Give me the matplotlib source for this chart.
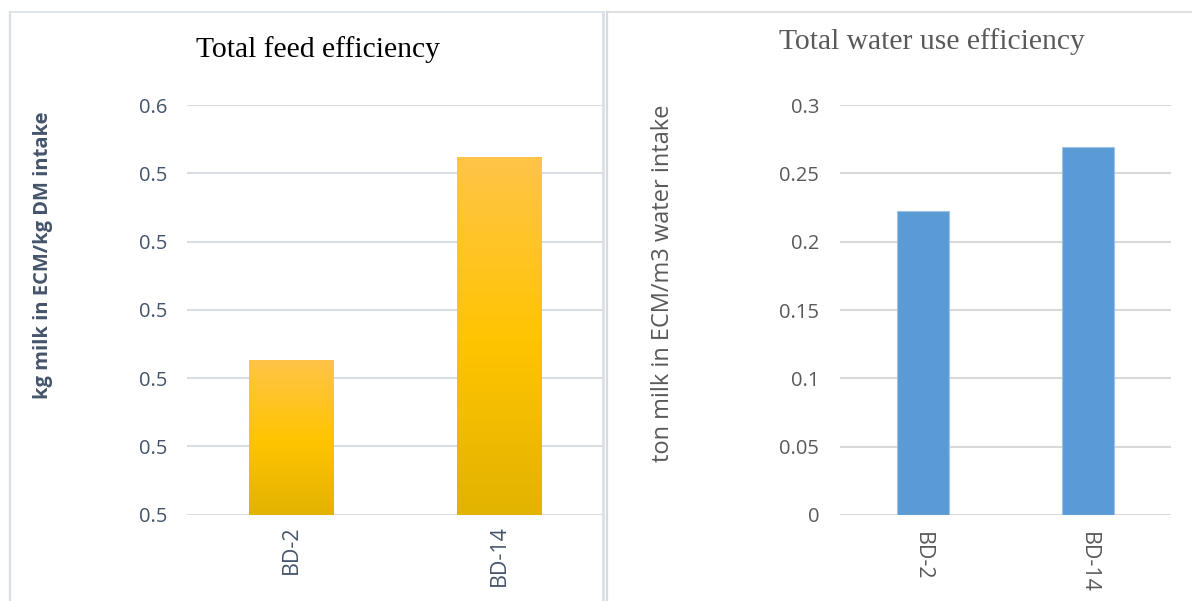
import numpy as np
import matplotlib
matplotlib.use("Agg")
import matplotlib.pyplot as plt
from matplotlib.lines import Line2D
from matplotlib.ticker import FuncFormatter
from matplotlib.colors import LinearSegmentedColormap
from decimal import Decimal, ROUND_HALF_UP

# ---- data ----
categories = ["BD-2", "BD-14"]
feed_efficiency = [0.5126, 0.5424]        # kg milk in ECM / kg DM intake
water_efficiency = [0.2222, 0.2690]       # ton milk in ECM / m3 water intake
feed_ticks = [0.49, 0.50, 0.51, 0.52, 0.53, 0.54, 0.55]
water_ticks = [0, 0.05, 0.1, 0.15, 0.2, 0.25, 0.3]

W, H = 1192, 601
fig = plt.figure(figsize=(W / 100, H / 100), dpi=100)
fig.patch.set_facecolor("white")


def fx(px):
    return px / W


def fy(py):
    return 1 - py / H


# panel frames
frame_l = "#DAE0E8"
frame_r = "#D9D9D9"
fig.add_artist(Line2D([fx(9.5), fx(9.5)], [fy(11.5), fy(601)], color=frame_l, lw=1.6))
fig.add_artist(Line2D([fx(9.5), fx(602.5)], [fy(11.5), fy(11.5)], color=frame_l, lw=1.2))
fig.add_artist(Line2D([fx(602.5), fx(602.5)], [fy(11.5), fy(601)], color=frame_l, lw=2.0))
fig.add_artist(Line2D([fx(606.5), fx(606.5)], [fy(11.5), fy(601)], color=frame_r, lw=1.6))
fig.add_artist(Line2D([fx(606.5), fx(1192)], [fy(11.5), fy(11.5)], color=frame_r, lw=1.2))

x = np.arange(len(categories))

# ---- left: total feed efficiency ----
axl = fig.add_axes([fx(187), fy(514.5), fx(603) - fx(187), fy(105) - fy(514.5)])
axl.set_yticks(feed_ticks)
axl.yaxis.set_major_formatter(FuncFormatter(
    lambda v, p: str(Decimal(str(round(v, 4))).quantize(Decimal("0.1"), rounding=ROUND_HALF_UP))))
axl.grid(axis="y", color="#D9DEE6", lw=1.5)
axl.set_axisbelow(True)
for s in axl.spines.values():
    s.set_visible(False)
axl.tick_params(axis="y", length=0, pad=14, labelsize=14.5, labelcolor="#44546A")
axl.tick_params(axis="x", length=0, pad=8, labelsize=15.5, labelcolor="#44546A")
axl.set_xticks(x)
axl.set_xticklabels(categories, rotation=90, va="top", ha="center")
for t in axl.get_yticklabels() + axl.get_xticklabels():
    t.set_fontfamily("Open Sans")

# bars drawn as clip paths for a vertical gold gradient
bars = axl.bar(x, np.array(feed_efficiency) - feed_ticks[0], width=0.404,
               bottom=feed_ticks[0], color="none", edgecolor="none")
gold = LinearSegmentedColormap.from_list(
    "gold", [(0.0, "#E2B300"), (0.48, "#FFC400"), (1.0, "#FFC548")])
grad = np.linspace(0, 1, 256).reshape(-1, 1)
for b, v in zip(bars, feed_efficiency):
    x0 = b.get_x()
    x1 = x0 + b.get_width()
    im = axl.imshow(grad, cmap=gold, aspect="auto", origin="lower",
                    extent=(x0, x1, feed_ticks[0], v), zorder=2,
                    interpolation="bicubic")
    im.set_clip_path(b)
axl.set_xlim(-0.5, 1.5)
axl.set_ylim(feed_ticks[0], feed_ticks[-1])

fig.text(fx(318), fy(50), "Total feed efficiency", ha="center", va="center",
         fontsize=21.3, family="Liberation Serif", color="black")
fig.text(fx(43), fy(255), "kg milk in ECM/kg DM intake", rotation=90,
         ha="center", va="center", fontsize=14.5, fontweight="bold",
         family="Open Sans", color="#44546A")

# ---- right: total water use efficiency ----
axr = fig.add_axes([fx(840), fy(515), fx(1171) - fx(840), fy(105) - fy(515)])
axr.bar(x, water_efficiency, width=0.312, color="#5B9BD5",
        edgecolor="#9DC3E6", linewidth=0.8, zorder=2)
axr.set_xlim(-0.5, 1.5)
axr.set_ylim(water_ticks[0], water_ticks[-1])
axr.set_yticks(water_ticks)
axr.yaxis.set_major_formatter(FuncFormatter(lambda v, p: f"{v:g}"))
axr.grid(axis="y", color="#D9D9D9", lw=1.5)
axr.set_axisbelow(True)
for s in axr.spines.values():
    s.set_visible(False)
axr.tick_params(axis="y", length=0, pad=15, labelsize=14.5, labelcolor="#595959")
axr.tick_params(axis="x", length=0, pad=12, labelsize=15.5, labelcolor="#595959")
axr.set_xticks(x)
axr.set_xticklabels(categories, rotation=-90, va="top", ha="center")
for t in axr.get_yticklabels() + axr.get_xticklabels():
    t.set_fontfamily("Open Sans")

fig.text(fx(932), fy(42), "Total water use efficiency", ha="center", va="center",
         fontsize=21.3, family="Liberation Serif", color="#595959")
fig.text(fx(663), fy(283), "ton milk in ECM/m3 water intake", rotation=90,
         ha="center", va="center", fontsize=17, family="Open Sans", color="#595959")

fig.savefig("out.png", dpi=100, facecolor="white")
